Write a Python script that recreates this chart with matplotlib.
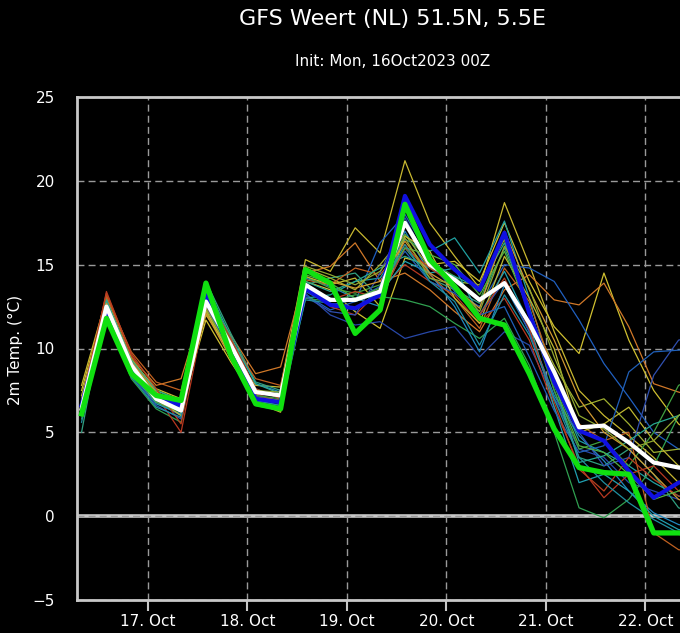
import matplotlib
matplotlib.use("Agg")
import matplotlib.pyplot as plt

# ---------------- data ----------------
hours = [6, 12, 18, 24, 30, 36, 42, 48, 54, 60, 66, 72, 78, 84, 90, 96,
         102, 108, 114, 120, 126, 132, 138, 144, 150, 156]

ens_mean = [6.4, 12.5, 9.0, 7.0, 6.3, 12.8, 10.2, 7.4, 7.2, 13.8, 12.9, 12.9, 13.4,
            17.5, 15.0, 14.1, 12.9, 13.9, 11.5, 8.6, 5.3, 5.4, 4.4, 3.2, 2.9, 2.7]
control = [6.6, 12.2, 8.7, 7.1, 6.6, 13.2, 9.8, 7.0, 6.8, 13.6, 12.6, 12.4, 13.2,
           19.1, 16.2, 14.7, 13.5, 16.9, 12.1, 8.0, 5.1, 4.5, 2.7, 1.1, 2.0, 2.3]
operational = [6.1, 11.8, 8.5, 7.2, 6.9, 13.9, 9.6, 6.7, 6.4, 14.7, 13.9, 10.9, 12.3,
               18.6, 15.3, 13.7, 11.8, 11.4, 8.5, 5.2, 2.9, 2.6, 2.5, -1.0, -1.0, -1.1]

members = [
    [7.8, 13.0, 9.3, 7.6, 7.0, 12.0, 9.8, 7.8, 7.7, 15.3, 14.6, 17.2, 15.7, 21.2, 17.5, 15.5, 13.6, 18.7, 15.0, 11.0, 7.5, 6.0, 4.8, 3.5, 2.0, 1.5],
    [7.5, 12.8, 9.0, 7.2, 6.5, 11.7, 9.2, 7.0, 6.8, 14.0, 13.5, 12.2, 11.2, 15.4, 15.0, 15.2, 14.0, 17.5, 14.0, 11.3, 9.7, 14.5, 10.5, 7.5, 5.5, 4.5],
    [7.0, 13.2, 9.5, 7.8, 8.2, 13.0, 10.8, 8.5, 8.9, 14.5, 14.9, 16.3, 14.0, 14.5, 13.5, 12.2, 11.0, 13.5, 14.4, 12.9, 12.6, 13.9, 11.3, 7.9, 7.4, 7.0],
    [6.2, 12.4, 8.8, 7.0, 6.2, 12.5, 9.8, 7.2, 6.9, 13.3, 12.0, 11.4, 11.6, 10.6, 11.0, 11.3, 9.5, 11.0, 10.2, 7.0, 4.0, 3.5, 2.0, 1.5, 1.0, 0.8],
    [6.5, 12.3, 8.8, 6.8, 6.0, 13.2, 10.0, 7.1, 6.7, 13.2, 12.3, 12.8, 16.3, 18.0, 15.4, 13.4, 12.5, 15.0, 14.8, 14.0, 11.7, 9.1, 7.1, 5.0, 4.0, 3.5],
    [6.0, 12.7, 9.0, 7.3, 6.8, 13.4, 10.4, 7.6, 7.0, 13.0, 13.2, 14.0, 14.2, 16.5, 15.8, 16.6, 14.5, 17.6, 13.0, 8.0, 4.5, 3.8, 3.0, 2.0, 1.2, 1.0],
    [5.8, 12.0, 8.2, 6.4, 5.6, 12.8, 9.4, 6.6, 6.3, 13.0, 12.8, 13.2, 13.1, 12.9, 12.5, 11.5, 10.6, 11.8, 9.0, 5.0, 0.5, -0.1, 1.0, 3.0, 6.0, 7.0],
    [6.4, 13.4, 9.6, 7.2, 5.0, 12.5, 10.2, 7.3, 6.8, 13.8, 12.5, 12.0, 13.5, 15.0, 14.0, 13.2, 11.5, 13.0, 10.5, 6.5, 3.0, 1.1, 2.5, 3.0, 1.5, 1.0],
    [5.0, 12.8, 9.2, 7.1, 6.5, 14.0, 10.9, 8.0, 7.5, 13.8, 14.2, 14.5, 13.0, 16.0, 14.2, 13.5, 12.7, 16.0, 12.5, 7.5, 3.5, 3.0, 4.0, 2.5, 0.5, 0.0],
    [6.8, 12.9, 9.1, 7.4, 6.7, 13.6, 10.6, 7.9, 7.4, 14.2, 13.7, 13.0, 12.5, 17.0, 14.5, 12.5, 9.8, 13.8, 11.0, 7.2, 4.8, 3.3, 1.5, 0.2, -0.5, -0.8],
    [6.9, 12.6, 9.4, 7.5, 6.9, 12.2, 9.6, 7.4, 7.2, 14.8, 14.2, 13.5, 15.0, 16.8, 14.8, 14.0, 13.8, 16.5, 12.0, 9.0, 6.5, 7.0, 5.5, 3.8, 4.0, 4.2],
    [6.6, 13.1, 9.8, 8.0, 7.5, 12.8, 10.5, 8.2, 7.8, 14.1, 13.8, 14.8, 14.4, 16.2, 14.4, 13.0, 11.2, 14.8, 12.8, 8.5, 5.5, 4.5, 5.0, -1.0, -2.0, -2.2],
    [6.3, 12.5, 8.6, 6.9, 6.4, 13.5, 10.1, 7.2, 7.0, 14.3, 13.6, 13.3, 13.8, 16.8, 15.2, 14.3, 12.8, 16.8, 12.0, 7.5, 4.0, 4.5, 3.0, 5.0, 7.8, 8.5],
    [6.1, 12.2, 8.5, 6.7, 6.1, 13.1, 9.9, 6.8, 6.5, 13.5, 13.0, 12.8, 13.3, 15.2, 14.5, 14.8, 12.0, 14.6, 11.5, 6.5, 2.0, 2.5, 1.5, 0.0, -0.8, -1.0],
    [7.2, 12.4, 9.0, 7.0, 6.0, 12.3, 9.5, 6.8, 6.2, 14.3, 13.8, 14.2, 12.5, 16.7, 15.8, 13.0, 11.5, 15.5, 13.0, 10.0, 5.0, 5.5, 6.5, 4.5, 3.0, 2.5],
    [6.0, 12.1, 8.4, 6.6, 5.8, 12.9, 9.6, 6.9, 6.6, 13.1, 12.2, 12.0, 14.5, 17.8, 15.0, 13.5, 12.0, 14.0, 11.0, 7.0, 5.0, 3.0, 3.5, 8.4, 10.5, 10.8],
    [6.3, 12.6, 8.9, 7.0, 6.4, 12.6, 9.9, 7.1, 6.8, 13.4, 12.6, 12.9, 13.7, 15.8, 14.0, 13.3, 12.0, 12.5, 9.5, 6.3, 3.8, 4.2, 8.6, 9.8, 9.9, 10.0],
    [6.5, 12.9, 9.3, 7.5, 6.9, 13.8, 10.7, 7.9, 7.3, 14.0, 13.4, 14.0, 14.8, 15.5, 14.8, 14.3, 13.6, 16.3, 12.4, 8.0, 3.2, 3.6, 4.5, 5.5, 6.0, 6.5],
    [7.0, 12.7, 9.2, 7.4, 6.6, 12.1, 9.4, 7.1, 6.9, 14.6, 14.0, 13.6, 14.0, 16.4, 14.5, 13.6, 12.4, 17.0, 13.5, 10.5, 7.0, 5.0, 4.0, 2.5, 1.0, 0.5],
    [6.8, 13.3, 9.7, 7.6, 5.5, 13.3, 10.6, 7.6, 7.0, 13.6, 12.9, 13.4, 13.0, 16.0, 14.8, 13.8, 12.0, 14.2, 11.2, 6.8, 2.8, 1.5, 3.5, 2.2, 1.2, 0.8],
    [6.2, 12.3, 8.6, 6.8, 6.2, 13.7, 10.3, 7.5, 7.1, 14.4, 13.9, 13.0, 13.6, 16.0, 15.6, 15.0, 13.2, 15.8, 12.2, 7.8, 4.2, 3.8, 2.5, 1.0, 1.5, 2.5],
    [5.6, 12.1, 8.3, 6.5, 5.9, 13.0, 9.7, 6.9, 6.6, 12.9, 12.7, 12.3, 13.5, 16.2, 14.0, 12.8, 10.2, 13.2, 10.8, 7.0, 3.5, 2.0, 0.8, -0.2, -1.0, -1.2],
    [6.7, 12.6, 9.1, 7.3, 6.8, 12.4, 9.7, 7.5, 7.4, 14.9, 14.4, 13.8, 14.6, 16.6, 14.2, 13.8, 12.2, 16.1, 13.6, 9.5, 6.0, 5.2, 4.0, 4.5, 6.0, 7.0],
]
member_colors = [
    "#c8b830", "#d0c030", "#d07828", "#2848a8", "#2060c0", "#20a0a0",
    "#30a050", "#b83820", "#30a080", "#2088c0", "#a0b030", "#c06020",
    "#40a040", "#20a0b0", "#c0b830", "#3050b0", "#2060b8", "#28a890",
    "#d09830", "#b84020", "#50b040", "#2090a0", "#90a830",
]

tick_hours = [22, 46, 70, 94, 118, 142]
tick_labels = ["17. Oct", "18. Oct", "19. Oct", "20. Oct", "21. Oct", "22. Oct"]
y_ticks = [-5, 0, 5, 10, 15, 20, 25]

title = "GFS Weert (NL) 51.5N, 5.5E"
subtitle = "Init: Mon, 16Oct2023 00Z"
ylabel = "2m Temp. (°C)"

# ---------------- figure ----------------
W, H = 680, 633
fig = plt.figure(figsize=(W / 100, H / 100), dpi=100, facecolor="black")
ax_l, ax_r, ax_t, ax_b = 77, 708, 97, 600
ax = fig.add_axes([ax_l / W, 1 - ax_b / H, (ax_r - ax_l) / W, (ax_b - ax_t) / H])
ax.set_facecolor("black")

for vals, c in zip(members, member_colors):
    ax.plot(hours, vals, color=c, lw=0.9, zorder=2)
ax.plot(hours, control, color="#1010e0", lw=3.0, zorder=3)
ax.plot(hours, ens_mean, color="white", lw=3.0, zorder=4)
ax.plot(hours, operational, color="#10e010", lw=3.8, zorder=5)

ax.set_xlim(4.9, 157.1)
ax.set_ylim(-5, 25)
ax.set_xticks(tick_hours)
ax.set_xticklabels(tick_labels)
ax.set_yticks(y_ticks)
ax.set_yticklabels(["\u22125" if v < 0 else str(v) for v in y_ticks])

ax.axhline(0, color="#c8c8c8", lw=2.6, zorder=0.4)
ax.set_axisbelow(True)
ax.grid(True, color="#9a9a9a", lw=1.0, linestyle=(0, (5, 3)))

for s in ax.spines.values():
    s.set_color("#c8c8c8")
    s.set_linewidth(2.0)

ax.tick_params(axis="x", colors="#c8c8c8", labelcolor="white", length=8,
               width=1.5, direction="out", labelsize=11, pad=2)
ax.tick_params(axis="y", length=0, labelcolor="white", labelsize=11, pad=16)

cx = (ax_l + ax_r) / 2 / W
fig.text(cx, 1 - 19 / H, title, color="white", fontsize=16, ha="center", va="center")
fig.text(cx, 1 - 61 / H, subtitle, color="white", fontsize=11, ha="center", va="center")
fig.text(15 / W, 1 - 350 / H, ylabel, color="white", fontsize=11, rotation=90,
         ha="center", va="center")

fig.savefig("out.png", dpi=100, facecolor="black")
